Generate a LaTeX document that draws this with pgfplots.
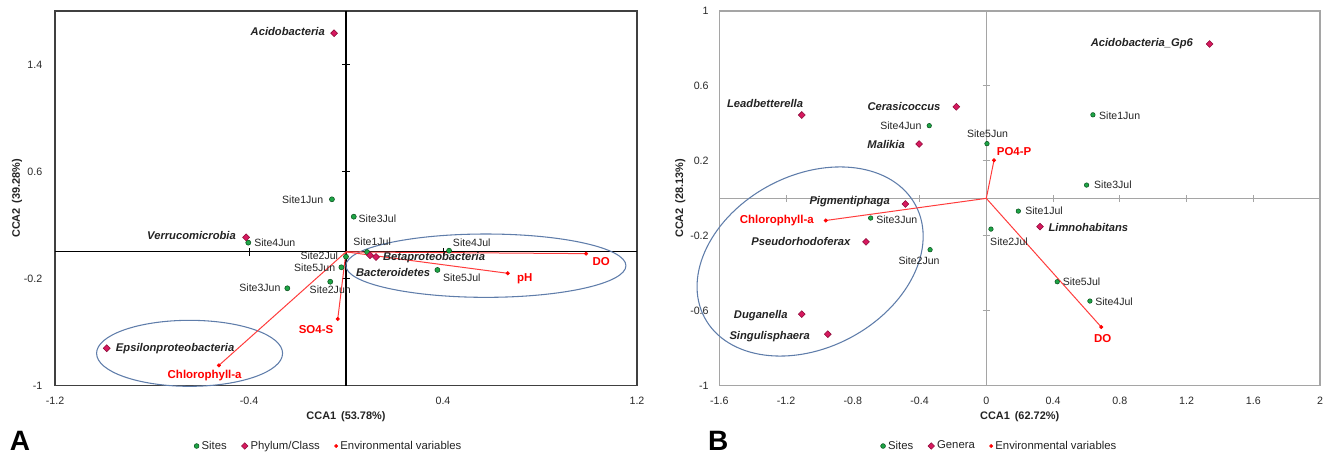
\documentclass[border=0pt]{standalone}
\usepackage{fontspec}
\setmainfont{Liberation Sans}
\usepackage{pgfplots}
\pgfplotsset{compat=1.18}
\usetikzlibrary{shapes.geometric}
\definecolor{sitefill}{RGB}{30,165,70}
\definecolor{sitedraw}{RGB}{10,80,30}
\definecolor{phyfill}{RGB}{215,25,95}
\definecolor{phydraw}{RGB}{140,10,55}
\definecolor{envred}{RGB}{255,0,0}
\definecolor{envline}{RGB}{255,60,60}
\definecolor{ellc}{RGB}{95,125,170}
\definecolor{grayB}{RGB}{165,165,165}
\definecolor{ticktext}{RGB}{40,40,40}
\definecolor{lbltext}{RGB}{35,35,35}

\tikzset{
 sitefont/.style={font=\fontsize{7.9}{9}\selectfont, text=lbltext},
 phyfont/.style={font=\fontsize{8.4}{10}\selectfont\bfseries\itshape, text=lbltext},
 envfont/.style={font=\fontsize{8.6}{10}\selectfont\bfseries, text=envred},
}
\pgfplotsset{
 lbl/.style={nodes near coords, point meta=explicit symbolic,
   visualization depends on={value \thisrow{anc}\as\lblanc},
   visualization depends on={\thisrow{dx}\as\lbldx},
   visualization depends on={\thisrow{dy}\as\lbldy},
   every node near coord/.append style={anchor=\lblanc, xshift=\lbldx pt, yshift=\lbldy pt, inner sep=0pt, #1}},
 sitemk/.style={only marks, forget plot, mark=*, mark size=#1, mark options={draw=sitedraw, fill=sitefill, line width=0.4pt}},
 phymk/.style={only marks, forget plot, mark=square*, mark size=#1, mark options={draw=phydraw, fill=phyfill, line width=0.4pt, rotate=45}},
 envmk/.style={only marks, forget plot, mark=*, mark size=1.3pt, mark options={draw=envred, fill=envred}},
 ccabase/.style={scale only axis, height=281pt, clip=false,
   major tick length=0pt,
   tick label style={font=\fontsize{8}{9}\selectfont, text=ticktext},
   /pgf/number format/assume math mode=true,
   label style={font=\fontsize{8.2}{10}\selectfont\bfseries, text=lbltext},
   x label style={at={(axis description cs:0.5,-0.083)}, anchor=center},
   y label style={at={(axis description cs:-0.065,0.5)}, anchor=center},
   xticklabel style={yshift=-5pt},
   legend columns=3,
   legend image code/.code={\draw[##1] plot coordinates {(0pt,0pt)};},
   legend style={draw=none, fill=none, anchor=center, font=\fontsize{8.5}{10}\selectfont, text=lbltext,
     /tikz/every even column/.append style={column sep=9pt}},
 },
}

\begin{document}
\begin{tikzpicture}
\useasboundingbox (0,0) rectangle (998.25pt,340.5pt);

% ---------------- Panel A ----------------
\begin{axis}[ccabase, at={(41.25pt,51.225pt)}, anchor=south west,
  width=436.5pt,
  xmin=-1.2, xmax=1.2, ymin=-1, ymax=1.8,
  xtick={-1.2,-0.4,0.4,1.2}, ytick={-1,-0.2,0.6,1.4},
  yticklabel style={xshift=-6pt},
  axis line style={draw=black!75, line width=0.8pt},
  xlabel={CCA1\hspace{0.45em}(53.78\%)}, ylabel={CCA2\hspace{0.45em}(39.28\%)},
  legend style={at={(0.471,-0.161)}},
  legend entries={Sites, Phylum/Class, Environmental variables},
]
\addlegendimage{mark=*, mark size=1.8pt, mark options={draw=sitedraw, fill=sitefill}}
\addlegendimage{mark=square*, mark size=1.7pt, mark options={draw=phydraw, fill=phyfill, rotate=45}}
\addlegendimage{mark=*, mark size=1.2pt, mark options={draw=envred, fill=envred}}

\draw[black, line width=0.8pt] (axis cs:-1.2,0) -- (axis cs:1.2,0);
\draw[black, line width=0.8pt] (axis cs:0,-1) -- (axis cs:0,1.8);
\draw[black, line width=0.7pt] ([yshift=-2.8pt]axis cs:-0.4,0) -- ([yshift=2.8pt]axis cs:-0.4,0);
\draw[black, line width=0.7pt] ([yshift=-2.8pt]axis cs:0.4,0) -- ([yshift=2.8pt]axis cs:0.4,0);
\draw[black, line width=0.7pt] ([xshift=-2.8pt]axis cs:0,1.4) -- ([xshift=2.8pt]axis cs:0,1.4);
\draw[black, line width=0.7pt] ([xshift=-2.8pt]axis cs:0,0.6) -- ([xshift=2.8pt]axis cs:0,0.6);
\draw[black, line width=0.7pt] ([xshift=-2.8pt]axis cs:0,-0.2) -- ([xshift=2.8pt]axis cs:0,-0.2);

\node[draw=ellc, line width=0.8pt, ellipse, inner sep=0pt, minimum width=139.5pt, minimum height=49.5pt] at (axis cs:-0.645,-0.758) {};
\node[draw=ellc, line width=0.8pt, ellipse, inner sep=0pt, minimum width=210pt, minimum height=47.5pt] at (axis cs:0.577,-0.103) {};

\addplot[envline, line width=0.75pt, forget plot] coordinates {(0,0) (0.990,-0.013)};
\addplot[envline, line width=0.75pt, forget plot] coordinates {(0,0) (0.667,-0.160)};
\addplot[envline, line width=0.75pt, forget plot] coordinates {(0,0) (-0.034,-0.501)};
\addplot[envline, line width=0.75pt, forget plot] coordinates {(0,0) (-0.524,-0.848)};

\addplot[sitemk=1.9pt, lbl={sitefont}] table[meta=label] {
x y label anc dx dy
-0.058 0.393 Site1Jun east -6.4 0
0.032 0.263 Site3Jul west 3.5 -1.2
-0.403 0.069 Site4Jun west 4.3 0
0.087 -0.001 Site1Jul center 3.8 7.5
0.000 -0.036 Site2Jul east -5.8 0.5
-0.019 -0.115 Site5Jun east -4.5 0
-0.065 -0.223 Site2Jun center 0 -6.2
-0.242 -0.272 Site3Jun east -5 0.4
0.425 0.009 Site4Jul center 17 6
0.377 -0.135 Site5Jul west 4 -5.5
};

\addplot[phymk=1.85pt, lbl={phyfont}] table[meta=label] {
x y label anc dx dy
-0.049 1.634 Acidobacteria east -6.8 1.2
-0.412 0.109 Verrucomicrobia east -7.5 1.7
-0.987 -0.720 Epsilonproteobacteria west 6.8 0
0.124 -0.038 Betaproteobacteria west 5 -0.8
0.099 -0.025 Bacteroidetes center 17.3 -12.8
};

\addplot[envmk, lbl={envfont}] table[meta=label] {
x y label anc dx dy
0.990 -0.013 DO center 11.3 -6
0.667 -0.160 pH west 6.8 -4.3
-0.034 -0.501 SO4-S center -16.3 -8.3
-0.524 -0.848 Chlorophyll-a center -10.7 -7.8
};
\end{axis}

% ---------------- Panel B ----------------
\begin{axis}[ccabase, at={(539.5pt,51.225pt)}, anchor=south west,
  width=450.5pt,
  xmin=-1.6, xmax=2, ymin=-1, ymax=1,
  xtick={-1.6,-1.2,-0.8,-0.4,0,0.4,0.8,1.2,1.6,2}, ytick={-1,-0.6,-0.2,0.2,0.6,1},
  yticklabel style={xshift=-4.5pt},
  axis line style={draw=grayB, line width=0.8pt},
  xlabel={CCA1\hspace{0.45em}(62.72\%)}, ylabel={CCA2\hspace{0.45em}(28.13\%)},
  legend style={at={(0.467,-0.161)}},
  legend entries={Sites, Genera, Environmental variables},
]
\addlegendimage{mark=*, mark size=1.8pt, mark options={draw=sitedraw, fill=sitefill}}
\addlegendimage{mark=square*, mark size=1.7pt, mark options={draw=phydraw, fill=phyfill, rotate=45}}
\addlegendimage{mark=*, mark size=1.2pt, mark options={draw=envred, fill=envred}}

\draw[grayB, line width=0.8pt] (axis cs:-1.6,0) -- (axis cs:2,0);
\draw[grayB, line width=0.8pt] (axis cs:0,-1) -- (axis cs:0,1);
\draw[grayB, line width=0.7pt] ([yshift=-2.8pt]axis cs:-1.2,0) -- ([yshift=2.8pt]axis cs:-1.2,0);
\draw[grayB, line width=0.7pt] ([yshift=-2.8pt]axis cs:-0.8,0) -- ([yshift=2.8pt]axis cs:-0.8,0);
\draw[grayB, line width=0.7pt] ([yshift=-2.8pt]axis cs:-0.4,0) -- ([yshift=2.8pt]axis cs:-0.4,0);
\draw[grayB, line width=0.7pt] ([yshift=-2.8pt]axis cs:0.4,0) -- ([yshift=2.8pt]axis cs:0.4,0);
\draw[grayB, line width=0.7pt] ([yshift=-2.8pt]axis cs:0.8,0) -- ([yshift=2.8pt]axis cs:0.8,0);
\draw[grayB, line width=0.7pt] ([yshift=-2.8pt]axis cs:1.2,0) -- ([yshift=2.8pt]axis cs:1.2,0);
\draw[grayB, line width=0.7pt] ([yshift=-2.8pt]axis cs:1.6,0) -- ([yshift=2.8pt]axis cs:1.6,0);
\draw[grayB, line width=0.7pt] ([xshift=-2.8pt]axis cs:0,0.6) -- ([xshift=2.8pt]axis cs:0,0.6);
\draw[grayB, line width=0.7pt] ([xshift=-2.8pt]axis cs:0,0.2) -- ([xshift=2.8pt]axis cs:0,0.2);
\draw[grayB, line width=0.7pt] ([xshift=-2.8pt]axis cs:0,-0.2) -- ([xshift=2.8pt]axis cs:0,-0.2);
\draw[grayB, line width=0.7pt] ([xshift=-2.8pt]axis cs:0,-0.6) -- ([xshift=2.8pt]axis cs:0,-0.6);

\node[draw=ellc, line width=0.8pt, ellipse, inner sep=0pt, minimum width=179.3pt, minimum height=129.3pt, rotate=28] at (axis cs:-1.056,-0.337) {};

\addplot[envline, line width=0.75pt, forget plot] coordinates {(0,0) (0.046,0.203)};
\addplot[envline, line width=0.75pt, forget plot] coordinates {(0,0) (-0.962,-0.118)};
\addplot[envline, line width=0.75pt, forget plot] coordinates {(0,0) (0.689,-0.687)};

\addplot[sitemk=1.7pt, lbl={sitefont}] table[meta=label] {
x y label anc dx dy
-0.342 0.388 Site4Jun east -5.7 0
0.004 0.292 Site5Jun center 0.4 7.8
0.639 0.446 Site1Jun west 4.5 -0.5
0.601 0.071 Site3Jul west 5.5 0
0.192 -0.068 Site1Jul west 5 0
0.028 -0.164 Site2Jul center 13.5 -9.5
-0.693 -0.105 Site3Jun west 4 -1.5
-0.337 -0.274 Site2Jun center -8.3 -8.5
0.425 -0.445 Site5Jul west 4 0
0.621 -0.548 Site4Jul west 3.8 -0.8
};

\addplot[phymk=1.8pt, lbl={phyfont}] table[meta=label] {
x y label anc dx dy
1.338 0.824 Acidobacteria\_Gp6 east -12.3 0
-1.106 0.445 Leadbetterella center -27.5 8.3
-0.180 0.489 Cerasicoccus east -11.7 0.5
-0.403 0.290 Malikia east -10.5 0
-0.485 -0.030 Pigmentiphaga east -11.5 1.7
-0.721 -0.232 Pseudorhodoferax east -11.5 0.5
-1.106 -0.618 Duganella east -10.5 -0.8
-0.950 -0.725 Singulisphaera east -13.3 -2
0.322 -0.151 Limnohabitans west 6.2 -0.5
};

\addplot[envmk, lbl={envfont}] table[meta=label] {
x y label anc dx dy
0.046 0.203 PO4-P west 2 6.5
-0.962 -0.118 Chlorophyll-a east -8.8 0
0.689 -0.687 DO center 1.1 -8.5
};
\end{axis}

\node[font=\fontsize{21}{23}\selectfont\bfseries, inner sep=0pt, anchor=base] at (15pt,2.5pt) {A};
\node[font=\fontsize{21}{23}\selectfont\bfseries, inner sep=0pt, anchor=base] at (538.7pt,2.5pt) {B};
\end{tikzpicture}
\end{document}
